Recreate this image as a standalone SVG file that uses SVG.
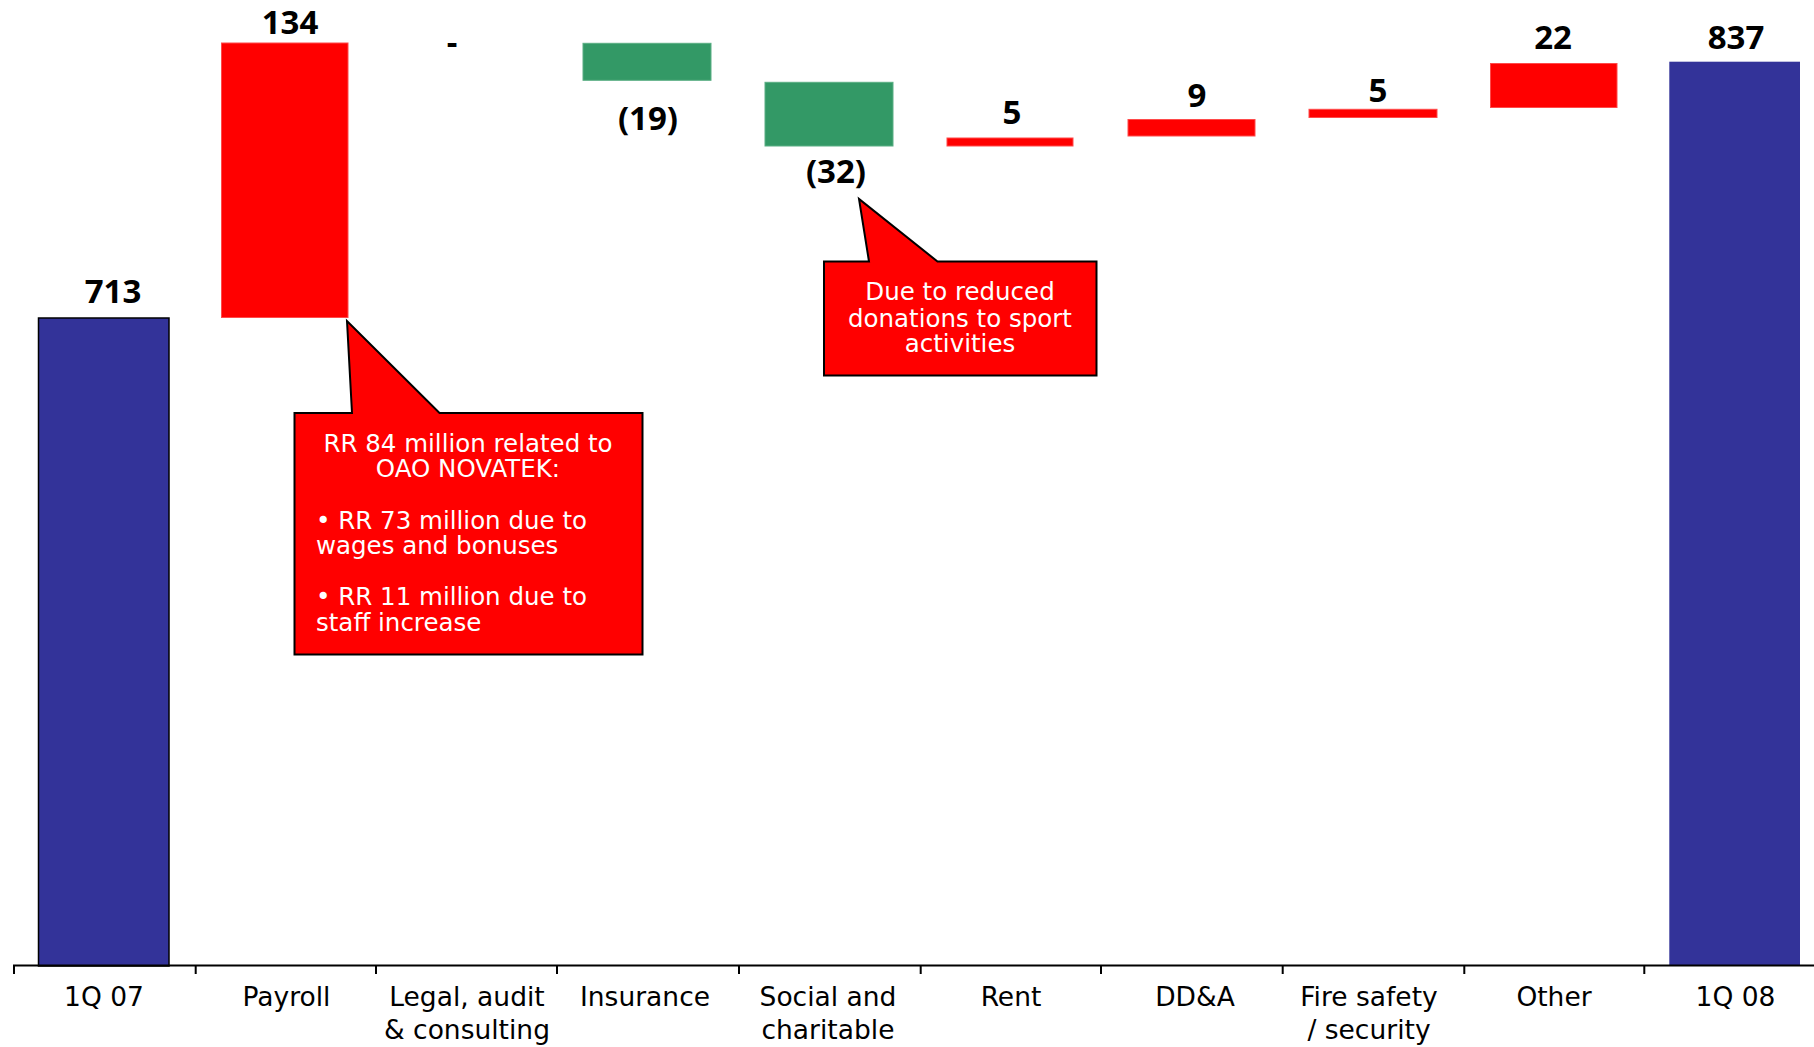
<svg xmlns="http://www.w3.org/2000/svg" width="1814" height="1047" viewBox="0 0 1814 1047">
  <style>
    .total { fill: #333399; }
    .up { fill: #FF0000; stroke: #ff4a4a; stroke-width: 1; }
    .down { fill: #339966; stroke: #5aae84; stroke-width: 1; }
    .num { font-family: "Open Sans", "Noto Sans", "Liberation Sans", sans-serif; font-weight: 700; font-size: 33px; fill: #000; text-anchor: middle; }
    .cat { font-family: "DejaVu Sans", "Liberation Sans", sans-serif; font-size: 26.5px; fill: #000; text-anchor: middle; }
    .callout { fill: #FF0000; stroke: #000; stroke-width: 2; stroke-linejoin: miter; }
    .ctext { font-family: "DejaVu Sans", "Liberation Sans", sans-serif; font-size: 24.5px; fill: #fff; }
    .axis { stroke: #000; stroke-width: 2; fill: none; }
  </style>
  <rect width="1814" height="1047" fill="#fff"/>

  <g id="bar-1q07">
    <rect class="total" x="38.5" y="318" width="130.5" height="648" stroke="#000" stroke-width="1.5"/>
    <text class="num" x="113" y="303">713</text>
  </g>
  <g id="bar-payroll">
    <rect class="up" x="221.5" y="43" width="126.5" height="274.5"/>
    <text class="num" x="290" y="33.5">134</text>
  </g>
  <g id="bar-legal">
    <text class="num" x="452" y="54">-</text>
  </g>
  <g id="bar-insurance">
    <rect class="down" x="583" y="43.3" width="128" height="37"/>
    <text class="num" x="648" y="130">(19)</text>
  </g>
  <g id="bar-social">
    <rect class="down" x="765" y="82.3" width="128" height="63.7"/>
    <text class="num" x="836" y="183">(32)</text>
  </g>
  <g id="bar-rent">
    <rect class="up" x="947" y="138" width="126" height="8"/>
    <text class="num" x="1012" y="124">5</text>
  </g>
  <g id="bar-dda">
    <rect class="up" x="1128" y="119.5" width="127" height="16.5"/>
    <text class="num" x="1197" y="107">9</text>
  </g>
  <g id="bar-fire">
    <rect class="up" x="1309" y="109.3" width="128" height="8.2"/>
    <text class="num" x="1378" y="101.5">5</text>
  </g>
  <g id="bar-other">
    <rect class="up" x="1490.5" y="63.5" width="126.5" height="44"/>
    <text class="num" x="1553" y="49.3">22</text>
  </g>
  <g id="bar-1q08">
    <rect class="total" x="1669.3" y="61.7" width="130.7" height="904.3"/>
    <text class="num" x="1736" y="49.3">837</text>
  </g>

  <g id="axis">
    <line class="axis" x1="13" y1="965.5" x2="1814" y2="965.5"/>
    <path class="axis" d="M14,965 V974 M195.7,965 V974 M376,965 V974 M557,965 V974 M739,965 V974 M920.7,965 V974 M1101,965 V974 M1282.7,965 V974 M1464.3,965 V974 M1644.3,965 V974"/>
  </g>

  <g id="labels">
    <text class="cat" x="104" y="1006">1Q 07</text>
    <text class="cat" x="286.5" y="1006">Payroll</text>
    <text class="cat" x="467" y="1006">Legal, audit</text>
    <text class="cat" x="467" y="1039">&amp; consulting</text>
    <text class="cat" x="645" y="1006">Insurance</text>
    <text class="cat" x="828" y="1006">Social and</text>
    <text class="cat" x="828" y="1039">charitable</text>
    <text class="cat" x="1011" y="1006">Rent</text>
    <text class="cat" x="1195" y="1006">DD&amp;A</text>
    <text class="cat" x="1369" y="1006">Fire safety</text>
    <text class="cat" x="1369" y="1039">/ security</text>
    <text class="cat" x="1554" y="1006">Other</text>
    <text class="cat" x="1735.5" y="1006">1Q 08</text>
  </g>

  <g id="callout-payroll">
    <path class="callout" d="M294.5,413 L352,413 L347,321 L439.5,413 L642.5,413 L642.5,654.5 L294.5,654.5 Z"/>
    <text class="ctext" x="468" y="452" text-anchor="middle">RR 84 million related to</text>
    <text class="ctext" x="468" y="477" text-anchor="middle">OAO NOVATEK:</text>
    <text class="ctext" x="316" y="528.5">• RR 73 million due to</text>
    <text class="ctext" x="316" y="554">wages and bonuses</text>
    <text class="ctext" x="316" y="605">• RR 11 million due to</text>
    <text class="ctext" x="316" y="631">staff increase</text>
  </g>

  <g id="callout-social">
    <path class="callout" d="M824,261.5 L869,261.5 L859,199 L937.5,261.5 L1096.5,261.5 L1096.5,375.5 L824,375.5 Z"/>
    <text class="ctext" x="960" y="300" text-anchor="middle">Due to reduced</text>
    <text class="ctext" x="960" y="326.5" text-anchor="middle">donations to sport</text>
    <text class="ctext" x="960" y="351.5" text-anchor="middle">activities</text>
  </g>

  <g id="connectors"></g>
</svg>
